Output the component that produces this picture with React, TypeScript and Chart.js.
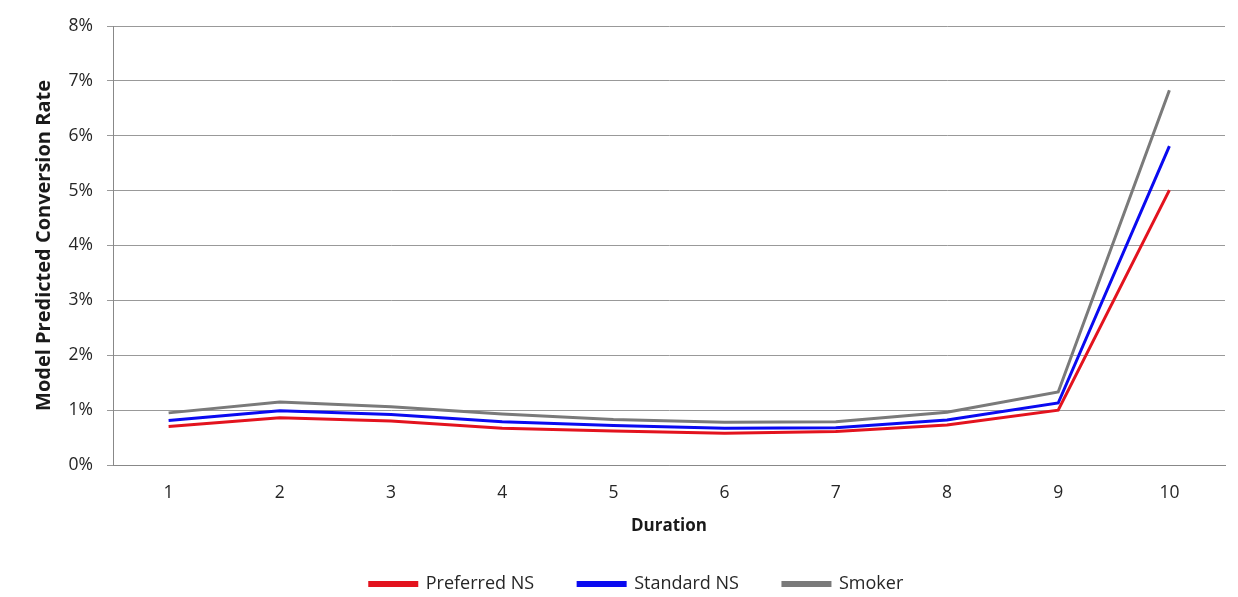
import React, { useEffect, useRef } from "react";
import { Chart, registerables } from "chart.js";

Chart.register(...registerables);

const categories = ["1", "2", "3", "4", "5", "6", "7", "8", "9", "10"];
const preferredNS = [0.70, 0.86, 0.80, 0.67, 0.62, 0.58, 0.61, 0.73, 1.00, 5.01];
const standardNS = [0.81, 0.99, 0.92, 0.79, 0.72, 0.67, 0.68, 0.82, 1.13, 5.81];
const smoker = [0.95, 1.15, 1.06, 0.93, 0.83, 0.78, 0.79, 0.96, 1.33, 6.83];
const yTicks = [0, 1, 2, 3, 4, 5, 6, 7, 8];

const FONT = "'Open Sans', 'Noto Sans', sans-serif";
const TEXT = "#262626";

const legendFitPlugin = {
  id: "legendFit",
  beforeLayout(chart: any) {
    const lg = chart.legend;
    if (lg && !lg._patched) {
      const orig = lg.fit.bind(lg);
      lg.fit = function () {
        orig();
        this.height = 66;
      };
      lg._patched = true;
    }
  },
  afterLayout(chart: any) {
    const lg = chart.legend;
    if (lg) {
      lg.left += 24;
      lg.right += 24;
    }
  },
};

export default function App() {
  const ref = useRef<HTMLCanvasElement | null>(null);
  useEffect(() => {
    document.body.style.margin = "0";
    const ctx = ref.current!;
    const chart = new Chart(ctx, {
      type: "line",
      data: {
        labels: categories,
        datasets: [
          { label: "Preferred NS", data: preferredNS, borderColor: "#E3131E", backgroundColor: "#E3131E", borderWidth: 3, pointRadius: 0, tension: 0 },
          { label: "Standard NS", data: standardNS, borderColor: "#0A0AF0", backgroundColor: "#0A0AF0", borderWidth: 3, pointRadius: 0, tension: 0 },
          { label: "Smoker", data: smoker, borderColor: "#7A7A7A", backgroundColor: "#7A7A7A", borderWidth: 3, pointRadius: 0, tension: 0 },
        ],
      },
      plugins: [legendFitPlugin],
      options: {
        animation: false,
        responsive: false,
        maintainAspectRatio: false,
        layout: { padding: { top: 26, right: 13, left: 0, bottom: 0 } },
        plugins: {
          tooltip: { enabled: false },
          legend: {
            position: "bottom",
            labels: {
              boxWidth: 47,
              boxHeight: 3,
              padding: 44,
              color: TEXT,
              font: { family: FONT, size: 18 },
            },
          },
        },
        scales: {
          x: {
            offset: true,
            grid: { display: false, drawTicks: false },
            border: { display: true, color: "#888", width: 1 },
            ticks: { color: TEXT, font: { family: FONT, size: 17.5 }, padding: 18 },
            title: { display: true, text: "Duration", color: "#1a1a1a", font: { family: FONT, size: 17, weight: "bold" }, padding: { top: 0, bottom: -5 } },
            afterFit: (s: any) => { s.height = 66; },
          },
          y: {
            min: 0,
            max: 8,
            afterBuildTicks: (s: any) => { s.ticks = yTicks.map((v) => ({ value: v })); },
            grid: { color: "#999", lineWidth: 1, drawTicks: true, tickLength: 6 },
            border: { display: true, color: "#888", width: 1 },
            ticks: { color: TEXT, font: { family: FONT, size: 17.5 }, padding: 14, callback: (v: any) => v + "%" },
            title: { display: true, text: "Model Predicted Conversion Rate", color: "#1a1a1a", font: { family: FONT, size: 20, weight: "bold" }, padding: { top: 32, bottom: 0 } },
            afterFit: (s: any) => { s.width = 113; },
          },
        },
      },
    });
    return () => chart.destroy();
  }, []);
  return (
    <div style={{ position: "absolute", left: 0, top: 0, width: 1238, height: 597, background: "#fff" }}>
      <canvas ref={ref} width={1238} height={597} />
    </div>
  );
}
